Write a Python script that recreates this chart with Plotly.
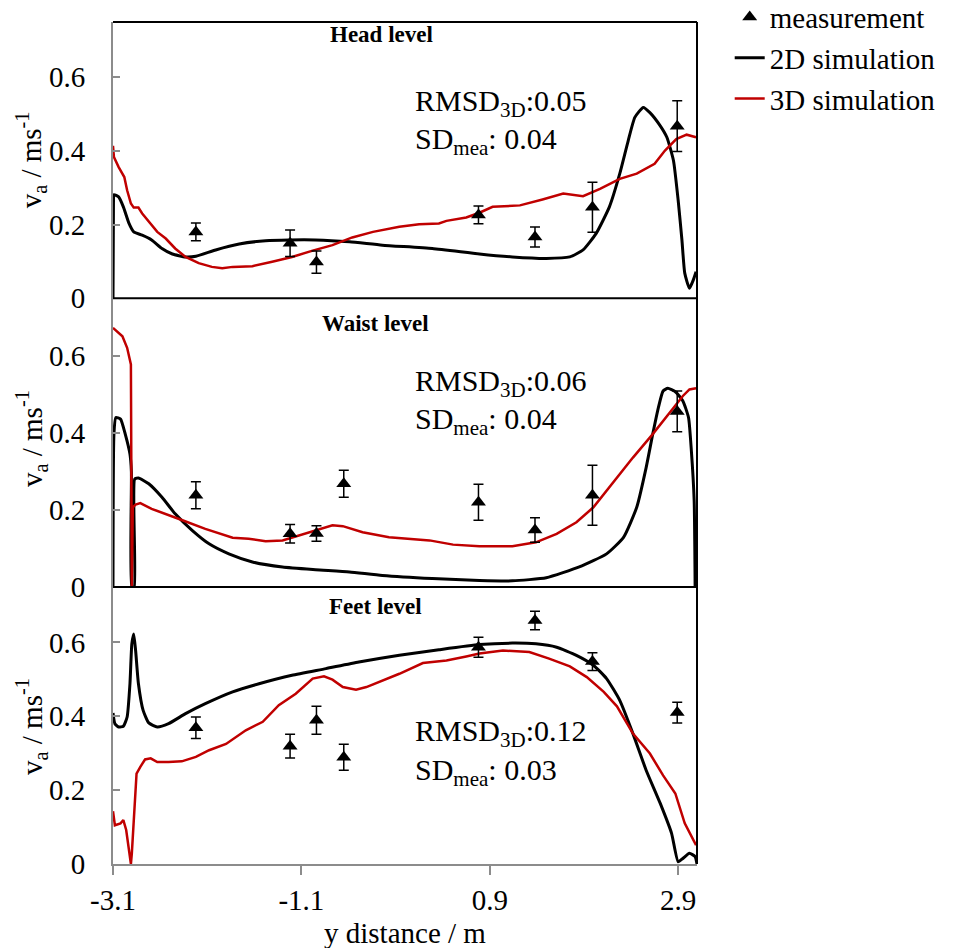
import plotly.graph_objects as go

# ---------------- data ----------------
meas_x_head = [-2.22, -1.22, -0.94, 0.78, 1.38, 1.99, 2.89]
meas_y_head = [0.180, 0.149, 0.098, 0.226, 0.166, 0.247, 0.467]
meas_e_head = [0.024, 0.036, 0.030, 0.024, 0.027, 0.068, 0.069]

meas_x = [-2.22, -1.22, -0.94, -0.65, 0.78, 1.38, 1.99, 2.89]
meas_y_waist = [0.238, 0.138, 0.139, 0.268, 0.220, 0.148, 0.238, 0.456]
meas_e_waist = [0.035, 0.024, 0.020, 0.035, 0.047, 0.032, 0.078, 0.053]
meas_y_feet = [0.369, 0.319, 0.389, 0.289, 0.587, 0.659, 0.548, 0.410]
meas_e_feet = [0.029, 0.032, 0.038, 0.035, 0.027, 0.025, 0.024, 0.028]

head2d_x = [-3.1, -3.095, -3.09, -3.04, -2.99, -2.93, -2.88, -2.79, -2.69, -2.58, -2.47, -2.33,
            -2.22, -2.01, -1.76, -1.48, -1.23, -0.95, -0.59, -0.24, 0.29, 0.79, 1.14, 1.50,
            1.75, 1.89, 2.03, 2.17, 2.28, 2.37, 2.44, 2.53, 2.60, 2.71, 2.78, 2.85, 2.90,
            2.94, 2.97, 3.02, 3.06, 3.09]
head2d_y = [0.0, 0.26, 0.281, 0.275, 0.248, 0.203, 0.180, 0.171, 0.158, 0.135, 0.120, 0.112,
            0.114, 0.131, 0.147, 0.156, 0.158, 0.158, 0.153, 0.144, 0.135, 0.120, 0.112, 0.108,
            0.112, 0.131, 0.176, 0.248, 0.338, 0.428, 0.491, 0.518, 0.504, 0.468, 0.437, 0.374, 0.266,
            0.158, 0.068, 0.027, 0.049, 0.072]

head3d_x = [-3.1, -3.09, -3.04, -2.98, -2.95, -2.91, -2.88, -2.83, -2.79, -2.72, -2.63, -2.54,
            -2.44, -2.33, -2.19, -2.05, -1.94, -1.83, -1.62, -1.41, -1.20, -0.98, -0.77, -0.56,
            -0.34, -0.06, 0.15, 0.36, 0.44, 0.65, 0.79, 0.93, 1.22, 1.46, 1.68, 1.89, 2.07,
            2.28, 2.46, 2.65, 2.76, 2.88, 2.99, 3.09]
head3d_y = [0.414, 0.383, 0.356, 0.329, 0.293, 0.257, 0.246, 0.246, 0.230, 0.207, 0.180, 0.162,
            0.135, 0.112, 0.095, 0.085, 0.081, 0.085, 0.087, 0.099, 0.112, 0.129, 0.144, 0.165,
            0.180, 0.194, 0.201, 0.203, 0.210, 0.219, 0.232, 0.248, 0.252, 0.268, 0.284, 0.277, 0.297,
            0.324, 0.338, 0.365, 0.401, 0.432, 0.444, 0.437]

waist2d_x = [-3.1, -3.09, -3.07, -3.02, -2.97, -2.92, -2.905, -2.90, -2.875, -2.87, -2.83, -2.72,
             -2.58, -2.44, -2.26, -2.08, -1.87, -1.62, -1.30, -0.95, -0.59, -0.24, 0.29, 0.79,
             1.14, 1.50, 1.85, 2.14, 2.32, 2.46, 2.56, 2.63, 2.69, 2.74, 2.79, 2.87, 2.95,
             3.01, 3.04, 3.07, 3.08]
waist2d_y = [0.0, 0.397, 0.440, 0.436, 0.397, 0.345, 0.300, 0.0, 0.0, 0.280, 0.283, 0.268,
             0.233, 0.190, 0.147, 0.112, 0.086, 0.065, 0.052, 0.045, 0.039, 0.030, 0.022, 0.017,
             0.016, 0.024, 0.052, 0.086, 0.129, 0.207, 0.310, 0.397, 0.466, 0.509, 0.516, 0.507, 0.483,
             0.440, 0.354, 0.224, 0.0]

waist3d_x = [-3.1, -3.0, -2.95, -2.91, -2.90, -2.89, -2.86, -2.81, -2.69, -2.54, -2.37, -2.12,
             -1.83, -1.66, -1.48, -1.30, -1.13, -0.95, -0.77, -0.66, -0.45, -0.17, 0.26, 0.51,
             0.79, 1.14, 1.39, 1.61, 1.82, 2.0, 2.21, 2.42, 2.63, 2.81, 2.95, 3.02, 3.09]
waist3d_y = [0.673, 0.651, 0.621, 0.578, 0.0, 0.207, 0.214, 0.218, 0.203, 0.190, 0.174, 0.151,
             0.128, 0.125, 0.119, 0.121, 0.134, 0.147, 0.160, 0.158, 0.142, 0.129, 0.121, 0.110,
             0.106, 0.106, 0.116, 0.138, 0.168, 0.207, 0.272, 0.336, 0.397, 0.453, 0.496, 0.513, 0.516]

feet2d_x = [-3.1, -3.08, -3.04, -2.99, -2.95, -2.92, -2.90, -2.88, -2.86, -2.83, -2.78, -2.72,
            -2.63, -2.51, -2.33, -2.12, -1.83, -1.55, -1.20, -0.84, -0.49, -0.06, 0.36, 0.79,
            1.14, 1.39, 1.61, 1.82, 2.0, 2.14, 2.28, 2.42, 2.56, 2.71, 2.83, 2.90, 2.95,
            3.02, 3.08, 3.1]
feet2d_y = [0.409, 0.380, 0.371, 0.373, 0.398, 0.488, 0.596, 0.623, 0.578, 0.488, 0.416, 0.382,
            0.371, 0.380, 0.407, 0.434, 0.466, 0.488, 0.511, 0.529, 0.547, 0.565, 0.580, 0.594,
            0.598, 0.596, 0.587, 0.565, 0.538, 0.502, 0.443, 0.353, 0.254, 0.164, 0.083, 0.006, 0.015,
            0.029, 0.020, 0.0]

feet3d_x = [-3.1, -3.08, -3.02, -2.99, -2.96, -2.93, -2.91, -2.90, -2.87, -2.85, -2.81, -2.76,
            -2.70, -2.63, -2.51, -2.37, -2.22, -2.08, -1.90, -1.69, -1.51, -1.34, -1.16, -0.98,
            -0.86, -0.77, -0.66, -0.52, -0.41, -0.24, -0.06, 0.19, 0.44, 0.65, 0.79, 1.04,
            1.32, 1.53, 1.75, 1.93, 2.11, 2.25, 2.42, 2.60, 2.74, 2.87, 2.97, 3.09]
feet3d_y = [0.143, 0.105, 0.110, 0.119, 0.092, 0.029, 0.0, 0.029, 0.164, 0.245, 0.263, 0.283,
            0.286, 0.276, 0.276, 0.278, 0.290, 0.308, 0.325, 0.362, 0.385, 0.430, 0.461, 0.502,
            0.508, 0.499, 0.479, 0.472, 0.479, 0.497, 0.515, 0.544, 0.551, 0.562, 0.570, 0.578,
            0.574, 0.556, 0.535, 0.506, 0.466, 0.427, 0.353, 0.299, 0.240, 0.191, 0.110, 0.051]

panel_titles = ["Head level", "Waist level", "Feet level"]
rmsd_vals = ["0.05", "0.06", "0.12"]
sd_vals = ["0.04", "0.04", "0.03"]
x_ticks = [-3.1, -1.1, 0.9, 2.9]
x_ticktext = ["-3.1", "-1.1", "0.9", "2.9"]
y_ticks = [0, 0.2, 0.4, 0.6]
y_ticktext = ["0", "0.2", "0.4", "0.6"]

# ---------------- figure ----------------
FONT = "Liberation Serif"
GREY = "#8c8c8c"
BLACK = "#000000"
RED = "#c00000"
FS = 29

fig = go.Figure()

panels = [
    ("x", "y", meas_x_head, meas_y_head, meas_e_head, head2d_x, head2d_y, head3d_x, head3d_y),
    ("x2", "y2", meas_x, meas_y_waist, meas_e_waist, waist2d_x, waist2d_y, waist3d_x, waist3d_y),
    ("x3", "y3", meas_x, meas_y_feet, meas_e_feet, feet2d_x, feet2d_y, feet3d_x, feet3d_y),
]

for i, (xa, ya, mx, my, me, x2, y2, x3, y3) in enumerate(panels):
    fig.add_trace(go.Scatter(x=x2, y=y2, mode="lines", name="2D simulation",
                             line=dict(color=BLACK, width=3, shape="spline", smoothing=0.5),
                             xaxis=xa, yaxis=ya, showlegend=False))
    fig.add_trace(go.Scatter(x=x3, y=y3, mode="lines", name="3D simulation",
                             line=dict(color=RED, width=2.5), xaxis=xa, yaxis=ya,
                             showlegend=False))
    fig.add_trace(go.Scatter(x=mx, y=my, mode="markers", name="measurement",
                             marker=dict(symbol="triangle-up", size=13, color=BLACK),
                             error_y=dict(type="data", array=me, visible=True, color=BLACK,
                                          thickness=1.5, width=5),
                             xaxis=xa, yaxis=ya, showlegend=False))

# legend-only entries
fig.add_trace(go.Scatter(x=[None], y=[None], mode="markers", name="measurement",
                         marker=dict(symbol="triangle-up", size=13, color=BLACK), legendrank=1))
fig.add_trace(go.Scatter(x=[None], y=[None], mode="lines", name="2D simulation",
                         line=dict(color=BLACK, width=3), legendrank=2))
fig.add_trace(go.Scatter(x=[None], y=[None], mode="lines", name="3D simulation",
                         line=dict(color=RED, width=2.5), legendrank=3))

domains = [[0.672, 1.0], [0.329, 0.672], [0.0, 0.329]]
axis_common = dict(range=[-3.1, 3.1], showgrid=False, zeroline=False, fixedrange=True)
yaxis_common = dict(range=[0, 0.75], showgrid=False, zeroline=False, showline=True,
                    linecolor=GREY, linewidth=2, ticks="inside", ticklen=7, tickwidth=1.5,
                    tickcolor=GREY, tickvals=y_ticks, ticktext=y_ticktext,
                    tickfont=dict(family=FONT, size=FS, color=BLACK), ticklabelstandoff=20)

layout = dict(
    width=959, height=948,
    margin=dict(l=113, r=262, t=22, b=84, autoexpand=False),
    paper_bgcolor="white", plot_bgcolor="white",
    font=dict(family=FONT, size=FS, color=BLACK),
    legend=dict(x=1.056, y=1.036, xanchor="left", yanchor="top",
                font=dict(family=FONT, size=FS, color=BLACK),
                bgcolor="rgba(0,0,0,0)", tracegroupgap=0, itemwidth=30),
    showlegend=True,
)
for i in range(3):
    xn = "xaxis" if i == 0 else f"xaxis{i+1}"
    yn = "yaxis" if i == 0 else f"yaxis{i+1}"
    xa = dict(axis_common, domain=[0, 1], anchor="y" if i == 0 else f"y{i+1}")
    if i == 2:
        xa.update(showline=True, linecolor=GREY, linewidth=2, ticks="outside", ticklen=9,
                  tickwidth=1.5, tickcolor=GREY, tickvals=x_ticks, ticktext=x_ticktext,
                  tickfont=dict(family=FONT, size=FS, color=BLACK), ticklabelstandoff=0)
    else:
        xa.update(showline=False, showticklabels=False, ticks="", matches="x3")
    layout[xn] = xa
    layout[yn] = dict(yaxis_common, domain=domains[i], anchor="x" if i == 0 else f"x{i+1}")

fig.update_layout(**layout)

# frame lines (black parts of the box)
shapes = []
def pline(x0, y0, x1, y1, color=BLACK, w=2):
    shapes.append(dict(type="line", xref="paper", yref="paper", x0=x0, y0=y0, x1=x1, y1=y1,
                       line=dict(color=color, width=w), layer="above"))
pline(0, 1, 1, 1)
pline(1, 0, 1, 1)
pline(0, domains[0][0], 1, domains[0][0])
pline(0, domains[1][0], 1, domains[1][0])
fig.update_layout(shapes=shapes)

# annotations
ann = []
title_pos = [(-0.25, 0.717), (-0.31, 0.685), (-0.31, 0.697)]
rmsd_pos = [(0.53, 0.428), (0.53, 0.431), (0.354, 0.249)]
for i in range(3):
    xr = "x" if i == 0 else f"x{i+1}"
    yr = "y" if i == 0 else f"y{i+1}"
    ann.append(dict(x=title_pos[i][0], y=title_pos[i][1], xref=xr, yref=yr,
                    text=f"<b>{panel_titles[i]}</b>", showarrow=False,
                    font=dict(family=FONT, size=23, color=BLACK), xanchor="center", yanchor="middle"))
    ann.append(dict(x=0.08, y=rmsd_pos[i][0], xref=xr, yref=yr,
                    text=f"RMSD<sub>3D</sub>:{rmsd_vals[i]}", showarrow=False,
                    font=dict(family=FONT, size=30, color=BLACK), xanchor="left", yanchor="middle"))
    ann.append(dict(x=0.08, y=rmsd_pos[i][1], xref=xr, yref=yr,
                    text=f"SD<sub>mea</sub>: {sd_vals[i]}", showarrow=False,
                    font=dict(family=FONT, size=30, color=BLACK), xanchor="left", yanchor="middle"))

for yc in [0.836, 0.505, 0.163]:
    ann.append(dict(x=-0.14, y=yc, xref="paper", yref="paper", textangle=-90,
                    text="v<sub>a</sub> / ms<sup>-1</sup>", showarrow=False,
                    font=dict(family=FONT, size=FS, color=BLACK), xanchor="center", yanchor="middle"))
ann.append(dict(x=0.5, y=-0.082, xref="paper", yref="paper", text="y distance / m",
                showarrow=False, font=dict(family=FONT, size=FS, color=BLACK),
                xanchor="center", yanchor="middle"))
fig.update_layout(annotations=ann)

fig.write_html("out.html")
